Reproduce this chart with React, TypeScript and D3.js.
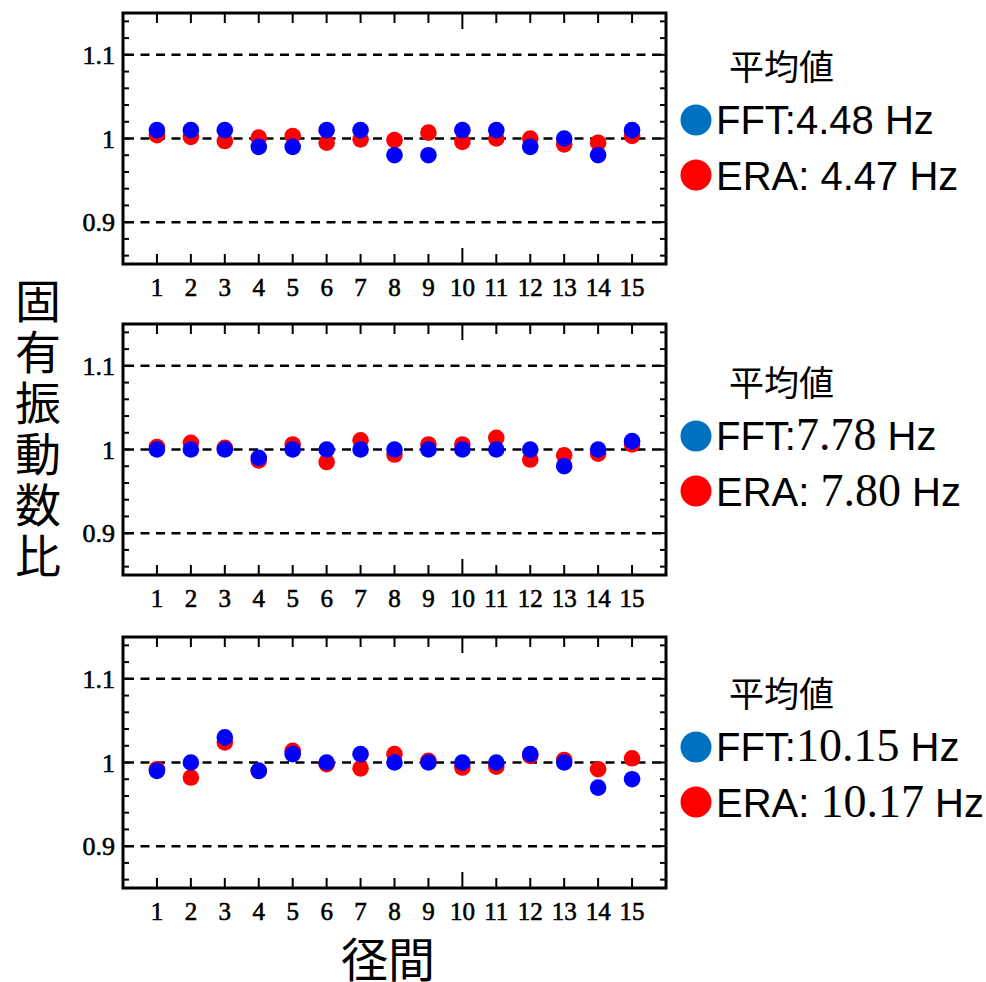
import React from "react";
import * as d3 from "d3";

const categories = [1, 2, 3, 4, 5, 6, 7, 8, 9, 10, 11, 12, 13, 14, 15];

const fft1 = [1.01, 1.01, 1.01, 0.99, 0.99, 1.01, 1.01, 0.98, 0.98, 1.01, 1.01, 0.99, 1.0, 0.98, 1.01];
const era1 = [1.004, 1.002, 0.997, 1.001, 1.003, 0.995, 0.999, 0.998, 1.007, 0.996, 1.0, 1.0, 0.993, 0.995, 1.003];

const fft2 = [1.0, 1.0, 1.0, 0.99, 1.0, 1.0, 1.0, 1.0, 1.0, 1.0, 1.0, 1.0, 0.98, 1.0, 1.01];
const era2 = [1.003, 1.008, 1.002, 0.987, 1.006, 0.985, 1.011, 0.994, 1.006, 1.006, 1.014, 0.988, 0.993, 0.995, 1.006];

const fft3 = [0.99, 1.0, 1.03, 0.99, 1.01, 1.0, 1.01, 1.0, 1.0, 1.0, 1.0, 1.01, 1.0, 0.97, 0.98];
const era3 = [0.992, 0.982, 1.024, 0.99, 1.014, 0.998, 0.993, 1.01, 1.002, 0.994, 0.995, 1.008, 1.003, 0.992, 1.005];

const yTickLabels = ["0.9", "1", "1.1"];
const yTickValues = [0.9, 1.0, 1.1];

// legend texts: [sansPrefix, serifNumber, sansSuffix]
const fftLegend: [string, string, string][] = [
  ["FFT:4.48 Hz", "", ""],
  ["FFT:", "7.78", " Hz"],
  ["FFT:", "10.15", " Hz"],
];
const eraLegend: [string, string, string][] = [
  ["ERA: 4.47 Hz", "", ""],
  ["ERA: ", "7.80", " Hz"],
  ["ERA: ", "10.17", " Hz"],
];

const legendTitle = "平均値";
const yLabel = "固有振動数比";
const xLabel = "径間";

const panels = [
  { fft: fft1, era: era1 },
  { fft: fft2, era: era2 },
  { fft: fft3, era: era3 },
];

const W = 986;
const H = 982;
const L = 123;
const R = 666;
const PH = 251;
const panelTops = [13, 324, 637];
const legendBase = [80, 396, 707];

const SERIF = "'Liberation Serif', 'Times New Roman', serif";
const SANS = "'Liberation Sans', Arial, sans-serif";
const CJK = "'Noto Sans CJK JP', 'Noto Sans CJK SC', sans-serif";

const minorY = d3.range(0.86, 1.1401, 0.02);

function Panel({ top, fft, era, idx }: { top: number; fft: number[]; era: number[]; idx: number }) {
  const x = d3.scaleLinear().domain([0, 16]).range([L, R]);
  const y = d3.scaleLinear().domain([0.85, 1.15]).range([top + PH, top]);
  const bottom = top + PH;
  return (
    <g>
      {yTickValues.map((v) => (
        <line
          key={"d" + v}
          x1={L + 2}
          x2={R - 2}
          y1={y(v)}
          y2={y(v)}
          stroke="#000"
          strokeWidth={2.5}
          strokeDasharray="9,6.5"
        />
      ))}
      {minorY.map((v, i) => (
        <g key={"yt" + i}>
          <line x1={L} x2={L + 6} y1={y(v)} y2={y(v)} stroke="#000" strokeWidth={2} />
          <line x1={R - 6} x2={R} y1={y(v)} y2={y(v)} stroke="#000" strokeWidth={2} />
        </g>
      ))}
      {categories.map((c) => {
        const len = c === 10 ? 16 : 10;
        return (
          <g key={"xt" + c}>
            <line x1={x(c)} x2={x(c)} y1={top} y2={top + len} stroke="#000" strokeWidth={2} />
            <line x1={x(c)} x2={x(c)} y1={bottom} y2={bottom - len} stroke="#000" strokeWidth={2} />
            <text
              x={x(c)}
              y={bottom + 32}
              textAnchor="middle"
              fontFamily={SERIF}
              fontSize={25}
              fill="#000"
              stroke="#000"
              strokeWidth={0.6}
            >
              {c}
            </text>
          </g>
        );
      })}
      {yTickValues.map((v, i) => (
        <text
          key={"yl" + v}
          x={L - 8}
          y={y(v) + 9}
          textAnchor="end"
          fontFamily={SERIF}
          fontSize={26}
          fill="#000"
          stroke="#000"
          strokeWidth={0.6}
        >
          {yTickLabels[i]}
        </text>
      ))}
      <rect x={L} y={top} width={R - L} height={PH} fill="none" stroke="#000" strokeWidth={3} />
      {era.map((v, i) => (
        <circle key={"e" + i} cx={x(categories[i])} cy={y(v)} r={8.3} fill="#FF0000" />
      ))}
      {fft.map((v, i) => (
        <circle key={"f" + i} cx={x(categories[i])} cy={y(v)} r={8.3} fill="#0000FF" />
      ))}
      <text x={729} y={legendBase[idx]} fontFamily={CJK} fontSize={35} fill="#000">
        {legendTitle}
      </text>
      <circle cx={696} cy={legendBase[idx] + 40} r={15.5} fill="#0070C0" />
      <text x={716} y={legendBase[idx] + 54} fontSize={40} fill="#000" fontFamily={SANS}>
        <tspan fontFamily={SANS}>{fftLegend[idx][0]}</tspan>
        {fftLegend[idx][1] && (
          <tspan fontFamily={SERIF} fontSize={46}>
            {fftLegend[idx][1]}
          </tspan>
        )}
        {fftLegend[idx][2] && <tspan fontFamily={SANS}>{fftLegend[idx][2]}</tspan>}
      </text>
      <circle cx={696} cy={legendBase[idx] + 95} r={15.5} fill="#FF0000" />
      <text x={716} y={legendBase[idx] + 110} fontSize={40} fill="#000" fontFamily={SANS}>
        <tspan fontFamily={SANS}>{eraLegend[idx][0]}</tspan>
        {eraLegend[idx][1] && (
          <tspan fontFamily={SERIF} fontSize={46}>
            {eraLegend[idx][1]}
          </tspan>
        )}
        {eraLegend[idx][2] && <tspan fontFamily={SANS}>{eraLegend[idx][2]}</tspan>}
      </text>
    </g>
  );
}

export default function App() {
  const chars = Array.from(yLabel);
  return (
    <svg
      width={W}
      height={H}
      viewBox={`0 0 ${W} ${H}`}
      style={{ position: "absolute", left: 0, top: 0, background: "#fff" }}
    >
      <rect x={0} y={0} width={W} height={H} fill="#fff" />
      {panels.map((p, i) => (
        <Panel key={i} top={panelTops[i]} fft={p.fft} era={p.era} idx={i} />
      ))}
      {chars.map((ch, i) => (
        <text
          key={"yc" + i}
          x={38}
          y={298 + i * 51}
          textAnchor="middle"
          dominantBaseline="central"
          fontFamily={CJK}
          fontSize={46}
          fill="#000"
        >
          {ch}
        </text>
      ))}
      <text
        x={388}
        y={956}
        textAnchor="middle"
        dominantBaseline="central"
        fontFamily={CJK}
        fontSize={47}
        fill="#000"
      >
        {xLabel}
      </text>
    </svg>
  );
}
